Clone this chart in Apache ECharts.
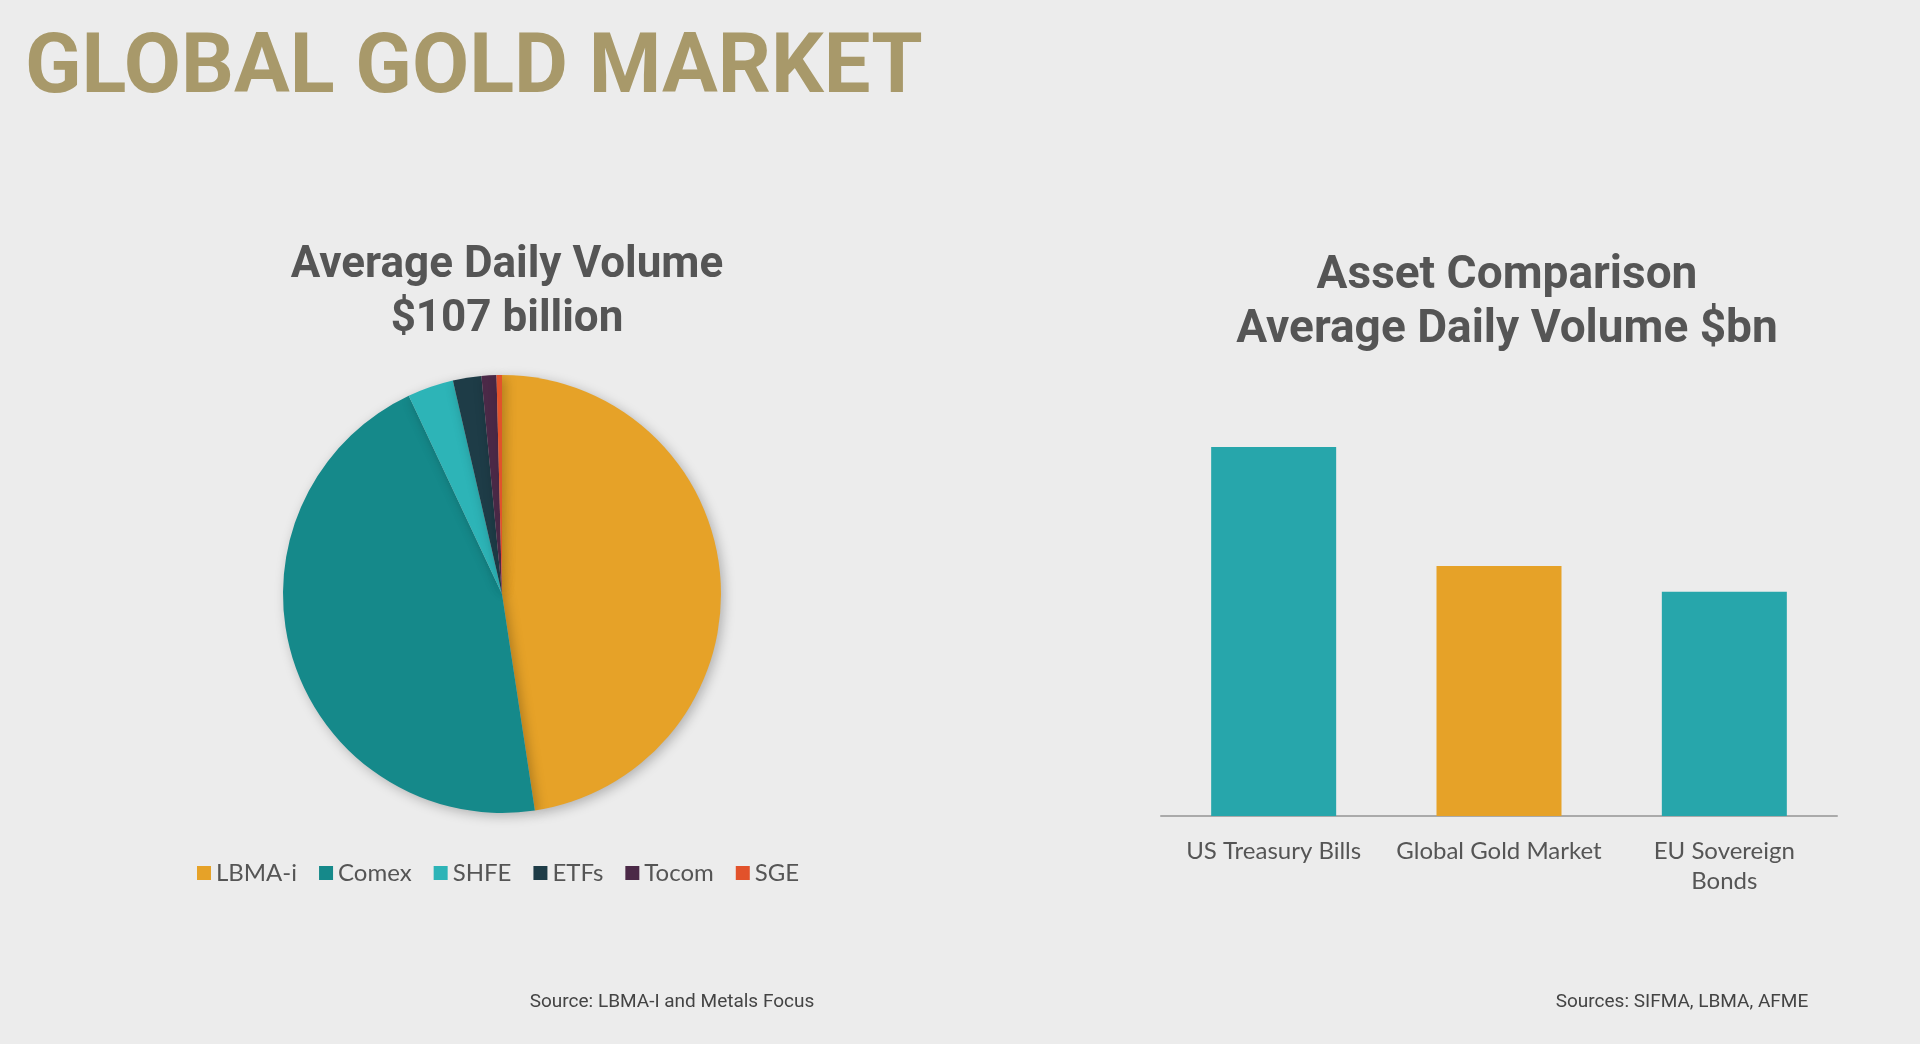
<!DOCTYPE html>
<html>
<head>
<meta charset="utf-8">
<script src="https://cdn.jsdelivr.net/npm/echarts@6/dist/echarts.min.js"></script>
<style>
html,body{margin:0;padding:0;background:#ececec;}
#chart{width:1920px;height:1044px;}
</style>
</head>
<body>
<div id="chart"></div>
<script>
// pie data
var marketNames = ['LBMA-i', 'Comex', 'SHFE', 'ETFs', 'Tocom', 'SGE'];
var marketShare = [47.6, 45.4, 3.4, 2.1, 1.1, 0.4];
var marketColors = ['#e6a228', '#15898a', '#2db4b7', '#1e3c47', '#4b2947', '#e2522b'];

// bar data
var assetNames = ['US Treasury Bills', 'Global Gold Market', 'EU Sovereign\nBonds'];
var assetVolume = [158, 107, 96];
var assetColors = ['#27a6ab', '#e6a228', '#27a6ab'];

var font = 'Roboto, "Liberation Sans", sans-serif';
var myChart = echarts.init(document.getElementById('chart'));

var option = {
    backgroundColor: '#ececec',
    title: [
        { text: 'GLOBAL GOLD MARKET', left: 20, top: 25,
          textStyle: { fontFamily: font, fontSize: 83, fontWeight: 'bold', color: '#a8996a' } },
        { text: 'Average Daily Volume\n$107 billion', left: 502, top: 234, textAlign: 'center',
          textStyle: { fontFamily: font, fontSize: 44, fontWeight: 'bold', color: '#555', lineHeight: 54 } },
        { text: 'Asset Comparison\nAverage Daily Volume $bn', left: 1502, top: 244, textAlign: 'center',
          textStyle: { fontFamily: font, fontSize: 46, fontWeight: 'bold', color: '#555', lineHeight: 54 } },
        { text: 'Source: LBMA-I and Metals Focus', left: 667, top: 988, textAlign: 'center',
          textStyle: { fontFamily: font, fontSize: 19, fontWeight: 'normal', color: '#444' } },
        { text: 'Sources: SIFMA, LBMA, AFME', left: 1677, top: 988, textAlign: 'center',
          textStyle: { fontFamily: font, fontSize: 19, fontWeight: 'normal', color: '#444' } }
    ],
    legend: {
        data: marketNames, left: 192, top: 856, icon: 'rect', itemWidth: 14, itemHeight: 14, itemGap: 22,
        textStyle: { fontFamily: 'Lato, sans-serif', fontSize: 24, color: '#555' }
    },
    grid: { left: 1161, right: 83, top: 447, bottom: 228 },
    xAxis: {
        type: 'category', data: assetNames,
        axisLine: { lineStyle: { color: '#aaa', width: 2 } }, axisTick: { show: false },
        axisLabel: { fontFamily: 'Lato, sans-serif', fontSize: 24, color: '#555', margin: 20, lineHeight: 30, interval: 0 }
    },
    yAxis: { type: 'value', min: 0, max: 158, show: false, splitLine: { show: false } },
    series: [
        {
            type: 'pie', center: [502, 594], radius: 219, startAngle: 90, clockwise: true,
            label: { show: false }, labelLine: { show: false },
            itemStyle: { shadowBlur: 12, shadowColor: 'rgba(0,0,0,0.25)', shadowOffsetX: 3, shadowOffsetY: 3 },
            data: marketNames.map(function(n, i) {
                return { name: n, value: marketShare[i], itemStyle: { color: marketColors[i] } };
            })
        },
        {
            type: 'bar', barWidth: 125,
            data: assetVolume.map(function(v, i) {
                return { value: v, itemStyle: { color: assetColors[i] } };
            })
        }
    ]
};

myChart.setOption(option);
</script>
</body>
</html>
